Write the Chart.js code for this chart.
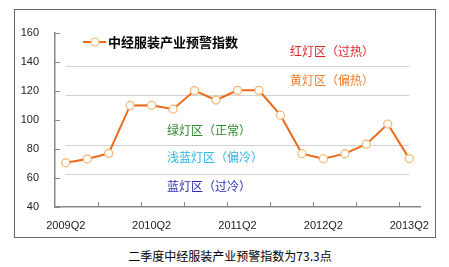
<!DOCTYPE html>
<html>
<head>
<meta charset="utf-8">
<script src="https://cdn.jsdelivr.net/npm/chart.js@4/dist/chart.umd.min.js"></script>
<style>
  body { margin: 0; background: #fff; width: 449px; height: 267px; position: relative; overflow: hidden; }
  #box { position: absolute; left: 14px; top: 9px; width: 422px; height: 229px; border: 1px solid #666; box-sizing: border-box; }
  #box canvas { position: absolute; left: 0; top: 0; }
  #caption { position: absolute; left: 0; width: 460px; top: 247px; text-align: center;
    font: 12px "Noto Sans CJK SC", sans-serif; color: #000; }
</style>
</head>
<body>
<div id="box"><canvas id="chart" width="420" height="227"></canvas></div>
<div id="caption">二季度中经服装产业预警指数为73.3点</div>
<script>
// quarters 2009Q2 .. 2013Q2
var quarters = ['2009Q2','2009Q3','2009Q4','2010Q1','2010Q2','2010Q3','2010Q4','2011Q1','2011Q2',
                '2011Q3','2011Q4','2012Q1','2012Q2','2012Q3','2012Q4','2013Q1','2013Q2']
var indexValues = [70.4, 73.0, 76.9, 109.9, 110.0, 107.3, 120.1, 113.6, 120.3, 120.3, 103.2, 76.7, 73.2, 76.7, 83.2, 97.1, 73.3]
var yTicks = [40, 60, 80, 100, 120, 140, 160]
// zone boundaries and zone labels
var zoneLines = [137, 117, 83, 63]
var zoneNames = ['红灯区（过热）', '黄灯区（偏热）', '绿灯区（正常）', '浅蓝灯区（偏冷）', '蓝灯区（过冷）']
var zoneLabelValues = [147, 127, 93, 74, 54]
var zoneColors = ['#e2222a', '#ef7d2a', '#2d8a2d', '#30b6e6', '#2b2fae']
var seriesName = '中经服装产业预警指数'

var lineColor = '#ea6a1c'
var markerBorder = '#f4b56c'

var extras = {
  id: 'extras',
  beforeDatasetsDraw: function(chart) {
    var ctx = chart.ctx, x = chart.scales.x, y = chart.scales.y
    var x0 = x.getPixelForValue(0), x1 = x.getPixelForValue(quarters.length - 1)
    ctx.save()
    ctx.strokeStyle = '#d2d2d2'
    ctx.lineWidth = 1
    zoneLines.forEach(function(v) {
      var py = Math.round(y.getPixelForValue(v)) + 0.5
      ctx.beginPath(); ctx.moveTo(x0, py); ctx.lineTo(x1, py); ctx.stroke()
    })
    // inside tick marks
    ctx.strokeStyle = '#8a8a8a'
    var area = chart.chartArea
    yTicks.forEach(function(v) {
      var py = Math.round(y.getPixelForValue(v)) + 0.5
      ctx.beginPath(); ctx.moveTo(area.left, py); ctx.lineTo(area.left + 5, py); ctx.stroke()
    })
    for (var i = 1; i < quarters.length - 1; i += 2) {
      var px = Math.round((x.getPixelForValue(i) + x.getPixelForValue(i + 1)) / 2) + 0.5
      ctx.beginPath(); ctx.moveTo(px, area.bottom); ctx.lineTo(px, area.bottom - 5); ctx.stroke()
    }
    ctx.restore()
  },
  afterDraw: function(chart) {
    var ctx = chart.ctx, y = chart.scales.y
    ctx.save()
    ctx.textBaseline = 'middle'
    ctx.font = '12px "Noto Sans CJK SC", sans-serif'
    zoneNames.forEach(function(name, i) {
      ctx.fillStyle = zoneColors[i]
      var lx = i < 2 ? 275 : 152
      ctx.fillText(name, lx, y.getPixelForValue(zoneLabelValues[i]))
    })
    // legend
    var ly = 32
    ctx.strokeStyle = lineColor
    ctx.lineWidth = 2
    ctx.beginPath(); ctx.moveTo(68, ly); ctx.lineTo(91, ly); ctx.stroke()
    ctx.beginPath(); ctx.arc(80, ly, 4, 0, Math.PI * 2)
    ctx.fillStyle = '#fff'; ctx.fill()
    ctx.strokeStyle = markerBorder; ctx.lineWidth = 1.2; ctx.stroke()
    ctx.fillStyle = '#000'
    ctx.font = 'bold 13px "Noto Sans CJK SC", sans-serif'
    ctx.fillText(seriesName, 93, ly)
    ctx.restore()
  }
}

new Chart(document.getElementById('chart'), {
  type: 'line',
  data: {
    labels: quarters,
    datasets: [{
      label: seriesName,
      data: indexValues,
      borderColor: lineColor,
      borderWidth: 2,
      tension: 0,
      pointRadius: 4,
      pointBackgroundColor: '#fff',
      pointBorderColor: markerBorder,
      pointBorderWidth: 1.2
    }]
  },
  options: {
    responsive: false,
    animation: false,
    layout: { padding: { top: 13, right: 15, left: 0, bottom: 0 } },
    plugins: { legend: { display: false }, tooltip: { enabled: false } },
    scales: {
      x: {
        offset: true,
        grid: { display: true, drawOnChartArea: false, drawTicks: false, color: 'rgba(0,0,0,0)' },
        border: { display: true, color: '#8a8a8a', width: 1.5 },
        ticks: {
          autoSkip: false, maxRotation: 0, padding: 12,
          color: '#222', font: { family: 'Arial, "Liberation Sans"', size: 11 },
          callback: function(v, i) { return i % 4 === 0 ? quarters[i] : '' }
        },
        afterFit: function(s) { s.height = 30; s.paddingLeft = 0; s.paddingRight = 0 }
      },
      y: {
        min: 40, max: 160,
        afterBuildTicks: function(s) { s.ticks = yTicks.map(function(v) { return { value: v } }) },
        grid: { display: true, drawOnChartArea: false, drawTicks: false, color: 'rgba(0,0,0,0)' },
        border: { display: true, color: '#8a8a8a', width: 1.5 },
        ticks: { padding: 16, color: '#222', font: { family: 'Arial, "Liberation Sans"', size: 11 } },
        afterFit: function(s) { s.width = 40 }
      }
    }
  },
  plugins: [extras]
})
</script>
</body>
</html>
